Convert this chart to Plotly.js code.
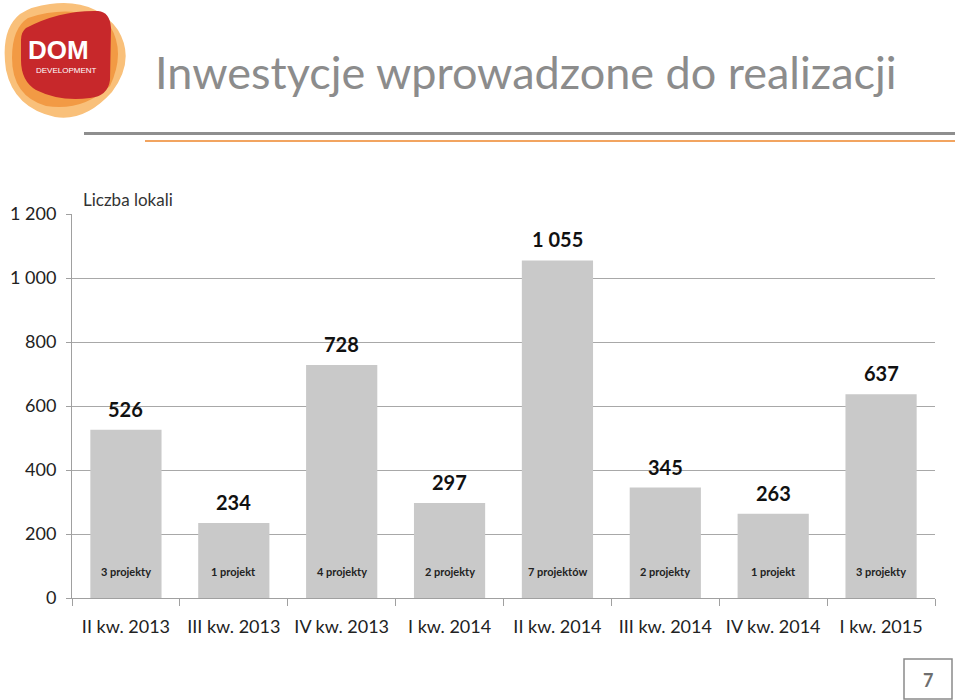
<!DOCTYPE html>
<html><head><meta charset="utf-8">
<script src="https://cdn.plot.ly/plotly-3.0.1.min.js"></script>
<style>body{margin:0;background:#fff}</style></head>
<body><div id="chart" style="width:960px;height:700px"></div>
<script>
const categories = ["II kw. 2013","III kw. 2013","IV kw. 2013","I kw. 2014","II kw. 2014","III kw. 2014","IV kw. 2014","I kw. 2015"];
const units = [526, 234, 728, 297, 1055, 345, 263, 637];
const projects = ["3 projekty","1 projekt","4 projekty","2 projekty","7 projektów","2 projekty","1 projekt","3 projekty"];
const yTickVals = [0, 200, 400, 600, 800, 1000, 1200];

// plot area in pixels
const L = 72, R = 935, T = 214, B = 598;
const W = 960, H = 700;
const px = x => (x - L) / (R - L);
const py = y => (B - y) / (B - T);
function pathPx(s) {
  const toks = s.trim().split(/\s+/);
  let out = [], nums = [];
  for (const t of toks) {
    if (/^[A-Za-z]$/.test(t)) { out.push(t); }
    else {
      nums.push(parseFloat(t));
      if (nums.length === 2) { out.push(px(nums[0]).toFixed(5) + ',' + py(nums[1]).toFixed(5)); nums = []; }
    }
  }
  return out.join(' ');
}
function fmt(v) { return String(v).replace(/\B(?=(\d{3})+(?!\d))/g, ' '); }

const font = 'Lato, "Open Sans", sans-serif';

const trace = {
  type: 'bar', x: categories, y: units,
  marker: { color: '#c9c9c9', line: { width: 0 } },
  hoverinfo: 'skip'
};

const annotations = [];
categories.forEach((c, i) => {
  annotations.push({ x: c, y: units[i], xref: 'x', yref: 'y', text: fmt(units[i]), showarrow: false,
    yanchor: 'bottom', yshift: 7, font: { family: font, size: 20, color: '#111', weight: 'bold' } });
  annotations.push({ x: c, y: 0, xref: 'x', yref: 'y', text: projects[i], showarrow: false,
    yanchor: 'middle', yshift: 27, font: { family: font, size: 11, color: '#222', weight: 'bold' } });
});
annotations.push({ xref: 'paper', yref: 'paper', x: px(128), y: py(199), text: 'Liczba lokali', showarrow: false,
  xanchor: 'center', yanchor: 'middle', font: { family: font, size: 17, color: '#333' } });
annotations.push({ xref: 'paper', yref: 'paper', x: px(58), y: py(50), text: '<b>DOM</b>', showarrow: false,
  xanchor: 'center', yanchor: 'middle', font: { family: 'Liberation Sans Narrow, Liberation Sans, Arial, sans-serif', size: 26, color: '#fff' } });
annotations.push({ xref: 'paper', yref: 'paper', x: px(66), y: py(70), text: 'DEVELOPMENT', showarrow: false,
  xanchor: 'center', yanchor: 'middle', font: { family: 'Liberation Sans, Arial, sans-serif', size: 8, color: '#fff' } });
annotations.push({ xref: 'paper', yref: 'paper', x: px(928), y: py(680), text: '<b>7</b>', showarrow: false,
  xanchor: 'center', yanchor: 'middle', font: { family: font, size: 18, color: '#6e6e6e' } });

const shapes = [
  { type: 'path', xref: 'paper', yref: 'paper', layer: 'above', line: { width: 0 }, fillcolor: '#f9c07a',
    path: pathPx('M 50 4 Q 95 -2 118 30 Q 136 60 112 92 Q 85 122 55 117 Q 14 108 6 70 Q 0 30 20 14 Q 32 6 50 4 Z') },
  { type: 'path', xref: 'paper', yref: 'paper', layer: 'above', line: { width: 0 }, fillcolor: '#f29a44',
    path: pathPx('M 28 18 Q 78 2 110 26 Q 126 52 110 86 Q 82 112 46 106 Q 12 96 12 58 Q 12 28 28 18 Z') },
  { type: 'path', xref: 'paper', yref: 'paper', layer: 'above', line: { width: 0 }, fillcolor: '#c7282b',
    path: pathPx('M 26 28 Q 60 10 98 11 Q 110 12 111 28 L 110 80 Q 108 96 90 98 Q 60 102 36 90 Q 21 81 21 60 L 21 40 Q 21 32 26 28 Z') },
  { type: 'line', xref: 'paper', yref: 'paper', x0: px(84), x1: px(955), y0: py(133.5), y1: py(133.5), line: { color: '#8e8e8e', width: 3 } },
  { type: 'line', xref: 'paper', yref: 'paper', x0: px(145), x1: px(955), y0: py(141), y1: py(141), line: { color: '#f2a460', width: 2 } },
  { type: 'rect', xref: 'paper', yref: 'paper', x0: px(904), x1: px(952), y0: py(659), y1: py(699), line: { color: '#8a8a8a', width: 1.5 } }
];

const layout = {
  width: W, height: H,
  margin: { l: L, r: W - R, t: T, b: H - B, pad: 0 },
  paper_bgcolor: '#fff', plot_bgcolor: '#fff',
  separators: ', ',
  showlegend: false,
  bargap: 0.34,
  title: { text: 'Inwestycje wprowadzone do realizacji', x: 155 / W, xref: 'container', xanchor: 'left',
    y: 1 - 73 / H, yref: 'container', yanchor: 'middle', font: { family: font, size: 45, color: '#8c8c8c' } },
  xaxis: {
    type: 'category', tickson: 'boundaries', ticks: 'outside', ticklen: 7, tickcolor: '#a0a0a0', tickwidth: 1,
    showline: true, linecolor: '#a0a0a0', linewidth: 1, showgrid: false,
    tickfont: { family: font, size: 18, color: '#222' }, ticklabelstandoff: 12
  },
  yaxis: {
    range: [0, 1200], tickvals: yTickVals, tickformat: ',d', ticks: 'outside', ticklen: 5, tickcolor: '#a0a0a0',
    showline: true, linecolor: '#a0a0a0', linewidth: 1, showgrid: true, gridcolor: '#a8a8a8', gridwidth: 1,
    zeroline: false, tickfont: { family: font, size: 18, color: '#222' }, ticklabelstandoff: 6
  },
  annotations, shapes
};

Plotly.newPlot('chart', [trace], layout, { displayModeBar: false, staticPlot: true });
</script></body></html>
